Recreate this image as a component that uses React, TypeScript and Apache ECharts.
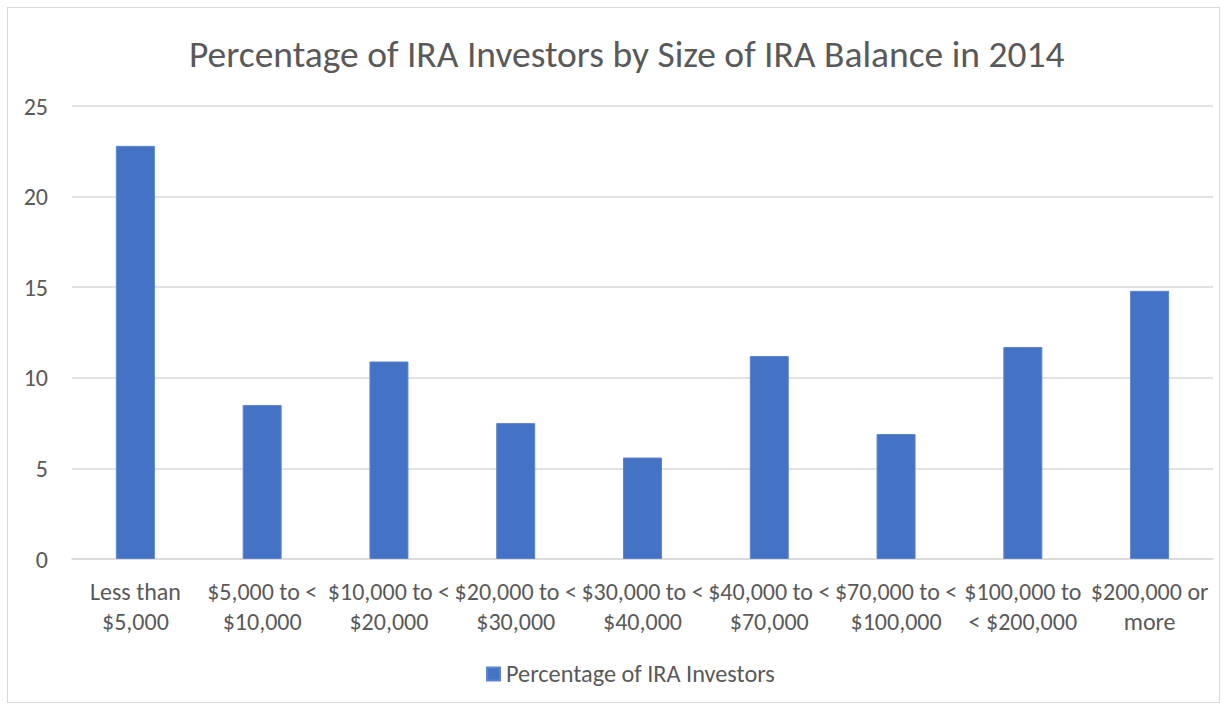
import React, { useEffect, useRef } from "react";
import * as echarts from "echarts";

const titleText = "Percentage of IRA Investors by Size of IRA Balance in 2014";
const seriesName = "Percentage of IRA Investors";
const categories = [
  "Less than\n$5,000",
  "$5,000 to <\n$10,000",
  "$10,000 to <\n$20,000",
  "$20,000 to <\n$30,000",
  "$30,000 to <\n$40,000",
  "$40,000 to <\n$70,000",
  "$70,000 to <\n$100,000",
  "$100,000 to\n< $200,000",
  "$200,000 or\nmore",
];
const values = [22.8, 8.5, 10.9, 7.5, 5.6, 11.2, 6.9, 11.7, 14.8];
const yTicks = { min: 0, max: 25, interval: 5 };

const FONT = "Carlito, 'Liberation Sans Narrow', 'Noto Sans', sans-serif";

export default function App() {
  const ref = useRef<HTMLDivElement>(null);
  useEffect(() => {
    if (!ref.current) return;
    const chart = echarts.init(ref.current, undefined, { renderer: "svg" });
    chart.setOption({
      animation: false,
      textStyle: { fontFamily: FONT },
      title: {
        text: titleText,
        left: 184,
        top: 30,
        textStyle: { fontFamily: FONT, fontSize: 37.5, fontWeight: "normal", color: "#595959" },
      },
      legend: {
        top: 662,
        left: 486,
        itemWidth: 13,
        itemHeight: 13,
        icon: "rect",
        itemGap: 6,
        padding: 0,
        textStyle: { fontFamily: FONT, fontSize: 24.3, color: "#595959", padding: [0, 0, 0, 1] },
        data: [seriesName],
      },
      grid: { left: 72, right: 15, top: 106, bottom: 151, containLabel: false },
      xAxis: {
        type: "category",
        data: categories,
        axisLine: { show: true, lineStyle: { color: "#D9D9D9", width: 1.5 } },
        axisTick: { show: false },
        axisLabel: {
          interval: 0,
          color: "#595959",
          fontFamily: FONT,
          fontSize: 24,
          lineHeight: 30,
          margin: 17,
        },
      },
      yAxis: {
        type: "value",
        min: yTicks.min,
        max: yTicks.max,
        interval: yTicks.interval,
        axisLine: { show: false },
        axisTick: { show: false },
        splitLine: { lineStyle: { color: "#D9D9D9", width: 1.5 } },
        axisLabel: { color: "#595959", fontFamily: FONT, fontSize: 24, margin: 24 },
      },
      series: [
        {
          name: seriesName,
          type: "bar",
          data: values,
          barWidth: 39,
          itemStyle: { color: "#4472C4", borderColor: "#5D85CD", borderWidth: 1 },
        },
      ],
    });
    return () => chart.dispose();
  }, []);
  return (
    <div style={{ position: "absolute", left: 0, top: 0, width: 1228, height: 710, background: "#fff" }}>
      <div ref={ref} style={{ position: "absolute", left: 0, top: 0, width: 1228, height: 710 }} />
      <div
        style={{
          position: "absolute",
          left: 7,
          top: 7,
          width: 1213,
          height: 696,
          border: "1px solid #D9D9D9",
          boxSizing: "border-box",
          pointerEvents: "none",
        }}
      />
    </div>
  );
}
